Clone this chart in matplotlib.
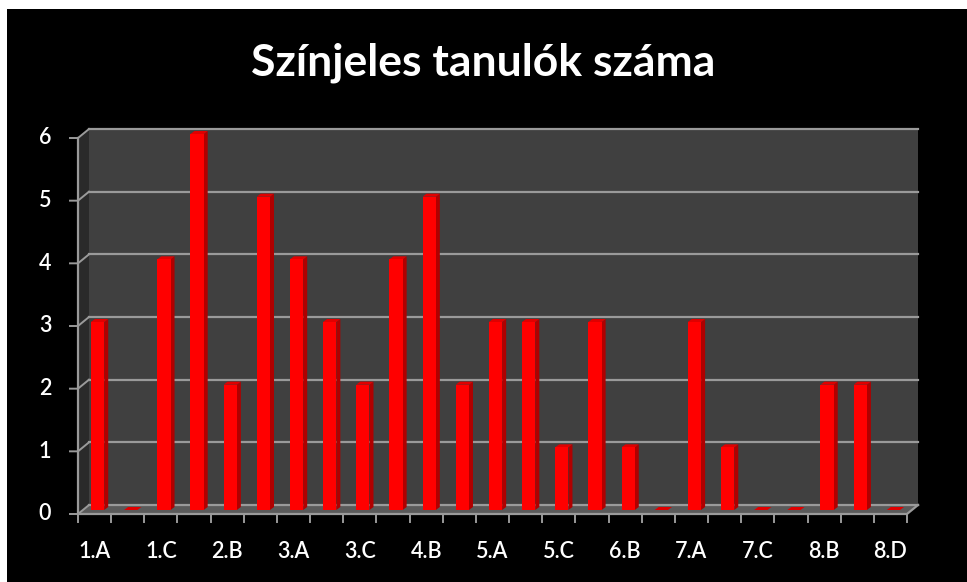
import matplotlib
matplotlib.use("Agg")
import matplotlib.pyplot as plt
from matplotlib.patches import Polygon, Rectangle

categories = ["1.A", "1.B", "1.C", "2.A", "2.B", "2.C", "3.A", "3.B", "3.C",
              "4.A", "4.B", "4.C", "5.A", "5.B", "5.C", "6.A", "6.B", "6.C",
              "7.A", "7.B", "7.C", "8.A", "8.B", "8.C", "8.D"]
values = [3, 0, 4, 6, 2, 5, 4, 3, 2, 4, 5, 2, 3, 3, 1, 3, 1, 0, 3, 1, 0, 0, 2, 2, 0]
yticks = [0, 1, 2, 3, 4, 5, 6]
title = "Színjeles tanulók száma"

W, H, DPI = 967, 582, 100
fig = plt.figure(figsize=(W / DPI, H / DPI), dpi=DPI, facecolor="white")

# black background panel (white margin at top/left)
fig.patches.append(Rectangle((7 / W, 0), 1 - 7 / W, 1 - 9 / H, transform=fig.transFigure,
                             facecolor="black", edgecolor="none", zorder=0))

# front axis frame: x 78..907, y(0)=514, y(6)=138 (pixel coords from top)
x0, x1 = 78, 907
ytop, ybot = 138, 514
ax = fig.add_axes([x0 / W, (H - ybot) / H, (x1 - x0) / W, (ybot - ytop) / H])
ax.set_xlim(0, len(categories))
ax.set_ylim(0, 6)
ax.axis("off")
ax.patch.set_alpha(0)

DX, DY = 11, 9  # depth offset (display pixels: right, up)
T = ax.transData


def P(x, y, dx=0.0, dy=0.0):
    px, py = T.transform((x, y))
    return (px + dx, py + dy)


def poly(pts, **kw):
    p = Polygon(pts, closed=True, transform=None, **kw)
    fig.patches.append(p)
    return p


n = len(categories)
wall = "#404040"
side_wall = "#2a2a2a"
floor_c = "#5a5a5a"
grid_c = "#9a9a9a"

# back wall
poly([P(0, 0, DX, DY), P(n, 0, DX, DY), P(n, 6, DX, DY), P(0, 6, DX, DY)],
     facecolor=wall, edgecolor="none", zorder=1)
# left wall
poly([P(0, 0), P(0, 0, DX, DY), P(0, 6, DX, DY), P(0, 6)],
     facecolor=side_wall, edgecolor="none", zorder=1)
# floor
poly([P(0, 0), P(n, 0), P(n, 0, DX, DY), P(0, 0, DX, DY)],
     facecolor=floor_c, edgecolor="none", zorder=1.5)

# gridlines on back wall and the left-wall connectors
for t in yticks:
    a = P(0, t, DX, DY)
    b = P(n, t, DX, DY)
    fig.lines.append(plt.Line2D([a[0], b[0]], [a[1], b[1]], transform=None,
                                color=grid_c, lw=1.6, zorder=2))
    c = P(0, t)
    fig.lines.append(plt.Line2D([c[0] - 8, c[0], a[0]], [c[1], c[1], a[1]], transform=None,
                                color=grid_c, lw=1.4, zorder=2))
    fig.text(c[0] - 33, c[1], str(t), transform=None, color="white", fontsize=15.5,
             family="Lato", fontweight="semibold", ha="center", va="center")

# front axis lines
f0 = P(0, 0)
fn = P(n, 0)
f6 = P(0, 6)
fig.lines.append(plt.Line2D([f0[0], fn[0], fn[0] + DX], [f0[1], fn[1], fn[1] + DY],
                            transform=None, color=grid_c, lw=1.6, zorder=4))
fig.lines.append(plt.Line2D([f0[0], f6[0]], [f0[1], f6[1]], transform=None,
                            color=grid_c, lw=1.6, zorder=4))
for i in range(n + 1):
    p = P(i, 0)
    fig.lines.append(plt.Line2D([p[0], p[0]], [p[1], p[1] - 8], transform=None,
                                color=grid_c, lw=1.4, zorder=4))

# x tick labels (every other category)
for i, c in enumerate(categories):
    if i % 2 == 0:
        p = P(i + 0.5, 0)
        fig.text(p[0], p[1] - 37, c, transform=None, color="white", fontsize=15.5,
                 family="Lato", fontweight="semibold", ha="center", va="center")

# bars (pseudo-3D)
bw = 0.4
bdx, bdy = 3, 4      # bar front-face offset
sdx, sdy = 4, 3      # bar depth
for i, v in enumerate(values):
    l = i + 0.5 - bw / 2
    r = i + 0.5 + bw / 2
    if v > 0:
        bl = P(l, 0, bdx, bdy)
        br = P(r, 0, bdx, bdy)
        tr = P(r, v, bdx, bdy)
        tl = P(l, v, bdx, bdy)
        # side face
        poly([br, (br[0] + sdx, br[1] + sdy), (tr[0] + sdx, tr[1] + sdy), tr],
             facecolor="#b00000", edgecolor="none", zorder=3)
        # top face
        poly([tl, tr, (tr[0] + sdx, tr[1] + sdy), (tl[0] + sdx, tl[1] + sdy)],
             facecolor="#e00000", edgecolor="none", zorder=3)
        # front face
        poly([bl, br, tr, tl], facecolor="#ff0000", edgecolor="none", zorder=3.1)
    else:
        bl = P(l, 0, bdx, bdy)
        br = P(r, 0, bdx, bdy)
        poly([bl, br, (br[0] + sdx, br[1] + sdy), (bl[0] + sdx, bl[1] + sdy)],
             facecolor="#e00000", edgecolor="none", zorder=3)

fig.text(0.5, 1 - 63 / H, title, color="white", fontsize=32, family="Lato",
         fontweight="bold", ha="center", va="center")

fig.savefig("out.png", dpi=DPI, facecolor=fig.get_facecolor())
